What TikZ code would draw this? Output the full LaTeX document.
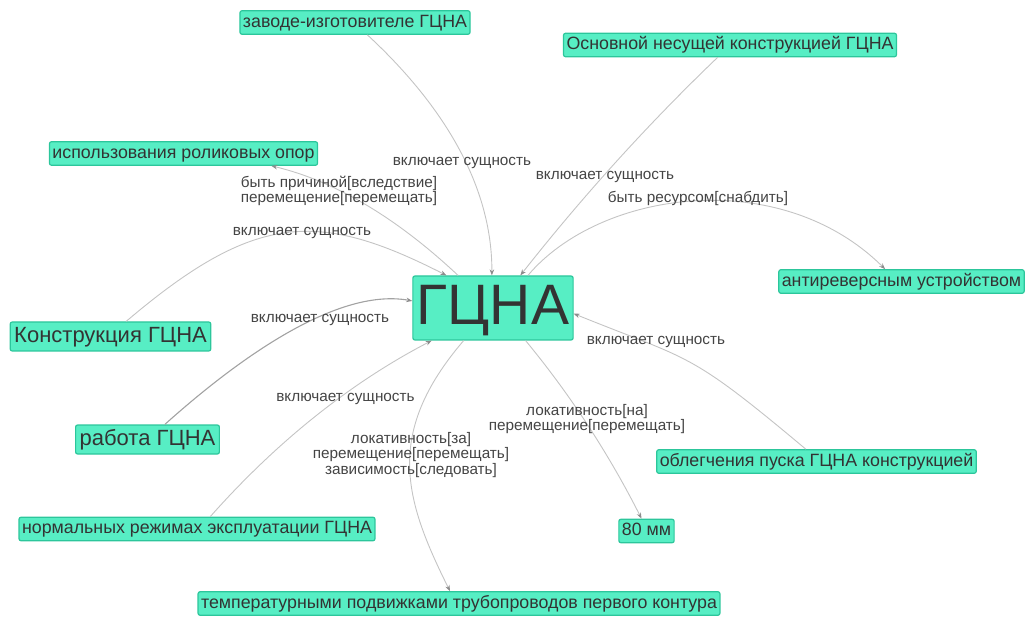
\documentclass[tikz,border=0pt]{standalone}
\usepackage{fontspec}
\setmainfont{Liberation Sans}
\usetikzlibrary{arrows.meta}
\definecolor{nodefill}{HTML}{57EEC4}
\definecolor{nodeline}{HTML}{2CC69B}
\definecolor{txt}{HTML}{333333}
\definecolor{lbl}{HTML}{444444}
\definecolor{edgegray}{HTML}{C4C4C4}
\definecolor{edgedark}{HTML}{A2A2A2}
\definecolor{tipgray}{HTML}{8C8C8C}
\begin{document}
\begin{tikzpicture}[x=1pt,y=-1pt,
  ent/.style={rectangle, rounded corners=2pt, fill=nodefill, draw=nodeline, line width=1.2pt, text=txt, inner xsep=3pt, inner ysep=0pt},
  small/.style={ent, font=\fontsize{17.8}{20}\selectfont, minimum height=23.5pt, text height=12.7pt, text depth=3pt},
  big/.style={ent, font=\fontsize{22}{26}\selectfont, minimum height=29pt, text height=16pt, text depth=4.5pt, inner xsep=4pt},
  hub/.style={ent, font=\fontsize{57}{60}\selectfont, minimum width=160pt, minimum height=64pt, text height=41pt, text depth=7pt, inner xsep=4pt},
  lab/.style={text=lbl, font=\fontsize{15.3}{15.5}\selectfont, align=center, inner sep=0pt},
  link/.style={draw=edgegray, line width=0.9pt, -{Stealth[length=6pt,width=4.5pt,color=tipgray]}}
]
\useasboundingbox (0,0) rectangle (1025,617);

% nodes
\node[small] (z)    at (355,22.5)   {заводе-изготовителе ГЦНА};
\node[small] (osn)  at (730,45)     {Основной несущей конструкцией ГЦНА};
\node[small] (isp)  at (183.5,153.5){использования роликовых опор};
\node[small] (anti) at (901.5,281.5){антиреверсным устройством};
\node[hub]   (g)    at (493,308)    {ГЦНА};
\node[big]   (kon)  at (110.5,336.5){Конструкция ГЦНА};
\node[big]   (rab)  at (147.5,439.5){работа ГЦНА};
\node[small] (obl)  at (816.5,461.5){облегчения пуска ГЦНА конструкцией};
\node[small] (norm) at (197,529)    {нормальных режимах эксплуатации ГЦНА};
\node[small] (mm)   at (646.5,531)  {80 мм};
\node[small] (temp) at (459,603.5)  {температурными подвижками трубопроводов первого контура};

% connectors
\draw[link] (z.-45) .. controls (450.7,112) and (492.3,192.7) .. (g.92);
\draw[link] (osn.-135) .. controls (647,125) and (581.5,197.7) .. (g.50);
\draw[link] (g.43) .. controls (600,190) and (780,165) .. (anti.143);
\draw[link] (g.137) .. controls (397,218) and (335,181) .. (isp.-8);
\draw[link] (kon.44) .. controls (255,212) and (318,210) .. (g.145);
\draw[link,draw=edgedark,line width=1.1pt] (rab.41) .. controls (230.5,365.6) and (334,286.7) .. (g.175);
\draw[link] (norm.43) .. controls (277,441.3) and (351.3,382.3) .. (g.-152);
\draw[link] (g.-132) .. controls (384.4,433) and (403.9,498.9) .. (temp.126);
\draw[link] (g.-45) .. controls (570.6,395.1) and (609.3,454.8) .. (mm.112);
\draw[link] (obl.131) .. controls (687,349.6) and (691.8,361.5) .. (g.-4);

% edge labels
\node[lab] (l1)  at (462,163)   {включает сущность};
\node[lab] (l2)  at (605,176.5) {включает сущность};
\node[lab] (l3)  at (698,198)   {быть ресурсом[снабдить]};
\node[lab] (l4)  at (339,191)   {быть причиной[вследствие]\\перемещение[перемещать]};
\node[lab] (l5)  at (302,232.5) {включает сущность};
\node[lab] (l6)  at (320,320)   {включает сущность};
\node[lab] (l7)  at (656,341.5) {включает сущность};
\node[lab] (l8)  at (345.5,399) {включает сущность};
\node[lab] (l9)  at (587,419)   {локативность[на]\\перемещение[перемещать]};
\node[lab] (l10) at (411,455)   {локативность[за]\\перемещение[перемещать]\\зависимость[следовать]};
\end{tikzpicture}
\end{document}
